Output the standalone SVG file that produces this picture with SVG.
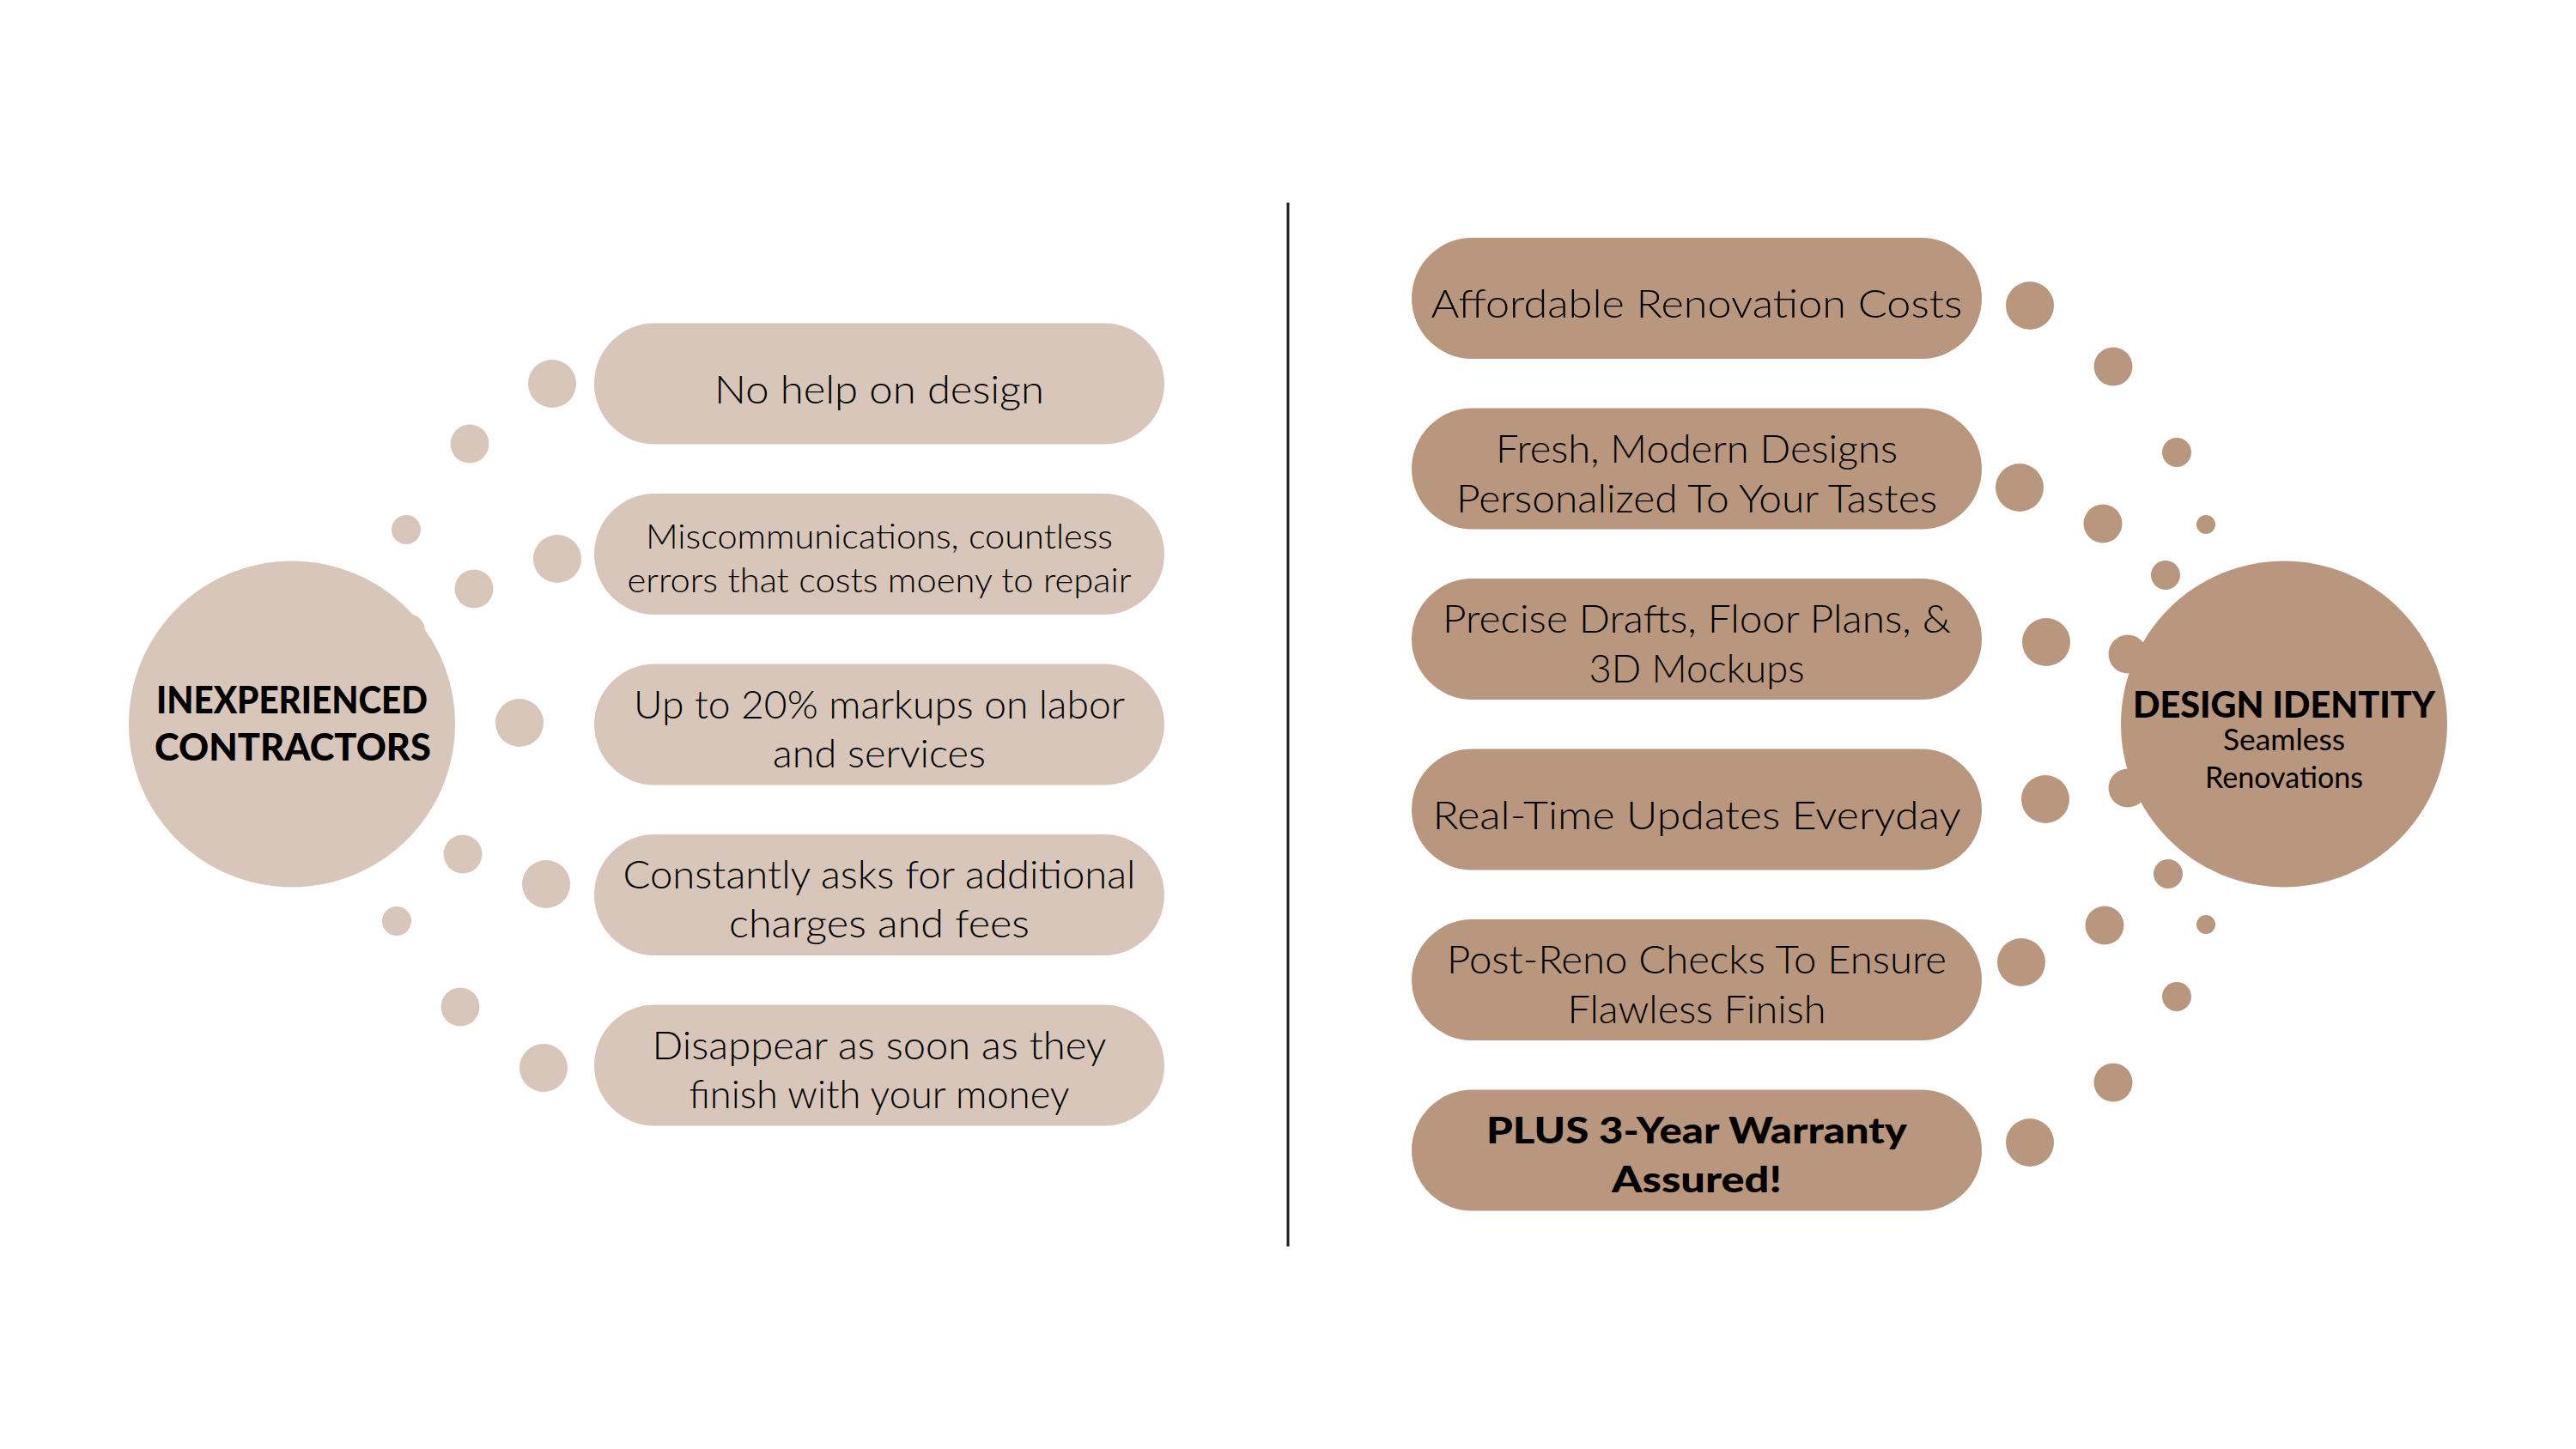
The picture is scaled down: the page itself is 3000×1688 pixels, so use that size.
<svg xmlns="http://www.w3.org/2000/svg" width="3000" height="1688" viewBox="0 0 3000 1688">
<style>
.bg{fill:#ffffff}
.l{fill:#D7C6B9}
.r{fill:#B8977E}
.t{font-family:Lato,"Noto Sans","Liberation Sans",sans-serif;font-weight:300;font-size:46px;fill:#000;text-anchor:middle}
.ts{font-size:40px}
.b{font-family:Lato,"Liberation Sans",sans-serif;font-weight:900;fill:#000;text-anchor:middle}
.div{stroke:#1c1c1c;stroke-width:3}
</style>
<rect class="bg" x="0" y="0" width="3000" height="1688"/>

<g id="connectors">
  <line class="div" x1="1500" y1="236" x2="1500" y2="1452"/>
</g>

<g id="dots-left">
  <circle class="l" cx="643" cy="447" r="28"/>
  <circle class="l" cx="547" cy="517" r="22.5"/>
  <circle class="l" cx="473" cy="617" r="17"/>
  <circle class="l" cx="552" cy="686" r="22.5"/>
  <circle class="l" cx="649" cy="651" r="28"/>
  <circle class="l" cx="475" cy="735" r="20"/>
  <circle class="l" cx="605" cy="842" r="28"/>
  <circle class="l" cx="539" cy="995" r="22.5"/>
  <circle class="l" cx="636" cy="1030" r="28"/>
  <circle class="l" cx="462" cy="1073" r="17"/>
  <circle class="l" cx="536" cy="1173" r="22.5"/>
  <circle class="l" cx="633" cy="1244" r="28"/>
</g>

<g id="dots-right">
  <circle class="r" cx="2364" cy="356" r="28"/>
  <circle class="r" cx="2461" cy="427" r="22.5"/>
  <circle class="r" cx="2535" cy="527" r="17"/>
  <circle class="r" cx="2569" cy="611" r="11"/>
  <circle class="r" cx="2449" cy="610" r="22.5"/>
  <circle class="r" cx="2352" cy="568" r="28"/>
  <circle class="r" cx="2522" cy="670" r="17"/>
  <circle class="r" cx="2383" cy="748" r="28"/>
  <circle class="r" cx="2478" cy="762" r="22.5"/>
  <circle class="r" cx="2478" cy="918" r="22.5"/>
  <circle class="r" cx="2382" cy="931" r="28"/>
  <circle class="r" cx="2525" cy="1018" r="17"/>
  <circle class="r" cx="2451" cy="1078" r="22.5"/>
  <circle class="r" cx="2569" cy="1077" r="11"/>
  <circle class="r" cx="2354" cy="1121" r="28"/>
  <circle class="r" cx="2535" cy="1161" r="17"/>
  <circle class="r" cx="2461" cy="1261" r="22.5"/>
  <circle class="r" cx="2364" cy="1331" r="28"/>
</g>

<g id="inexperienced-contractors">
  <circle class="l" cx="340" cy="843.5" r="190"/>
  <text class="b" x="340" y="831" font-size="43" textLength="316" lengthAdjust="spacingAndGlyphs">INEXPERIENCED</text>
  <text class="b" x="341" y="886" font-size="43" textLength="322" lengthAdjust="spacingAndGlyphs">CONTRACTORS</text>
</g>

<g id="design-identity">
  <circle class="r" cx="2660" cy="843.5" r="190"/>
  <text class="b" x="2660" y="836" font-size="42" textLength="352" lengthAdjust="spacingAndGlyphs">DESIGN IDENTITY</text>
  <text class="t" x="2660" y="874" style="font-size:34px;font-weight:400" textLength="142" lengthAdjust="spacingAndGlyphs">Seamless</text>
  <text class="t" x="2660" y="918" style="font-size:34px;font-weight:400" textLength="184" lengthAdjust="spacingAndGlyphs">Renovations</text>
</g>

<g id="left-1">
  <rect class="l" x="692" y="376.5" width="664" height="141" rx="70.5"/>
  <text class="t" x="1024" y="470" textLength="384" lengthAdjust="spacingAndGlyphs">No help on design</text>
</g>
<g id="left-2">
  <rect class="l" x="692" y="575" width="664" height="141" rx="70.5"/>
  <text class="t ts" x="1024" y="639" textLength="544" lengthAdjust="spacingAndGlyphs">Miscommunications, countless</text>
  <text class="t ts" x="1024" y="690" textLength="587" lengthAdjust="spacingAndGlyphs">errors that costs moeny to repair</text>
</g>
<g id="left-3">
  <rect class="l" x="692" y="773.5" width="664" height="141" rx="70.5"/>
  <text class="t" x="1024" y="837" textLength="572" lengthAdjust="spacingAndGlyphs">Up to 20% markups on labor</text>
  <text class="t" x="1024" y="894" textLength="248" lengthAdjust="spacingAndGlyphs">and services</text>
</g>
<g id="left-4">
  <rect class="l" x="692" y="972" width="664" height="141" rx="70.5"/>
  <text class="t" x="1024" y="1035" textLength="597" lengthAdjust="spacingAndGlyphs">Constantly asks for additional</text>
  <text class="t" x="1024" y="1092" textLength="350" lengthAdjust="spacingAndGlyphs">charges and fees</text>
</g>
<g id="left-5">
  <rect class="l" x="692" y="1170.5" width="664" height="141" rx="70.5"/>
  <text class="t" x="1024" y="1234" textLength="529" lengthAdjust="spacingAndGlyphs">Disappear as soon as they</text>
  <text class="t" x="1024" y="1291" textLength="443" lengthAdjust="spacingAndGlyphs">finish with your money</text>
</g>

<g id="right-1">
  <rect class="r" x="1644" y="277" width="664" height="141" rx="70.5"/>
  <text class="t" x="1976" y="370" textLength="619" lengthAdjust="spacingAndGlyphs">Affordable Renovation Costs</text>
</g>
<g id="right-2">
  <rect class="r" x="1644" y="475.5" width="664" height="141" rx="70.5"/>
  <text class="t" x="1976" y="539" textLength="468" lengthAdjust="spacingAndGlyphs">Fresh, Modern Designs</text>
  <text class="t" x="1976" y="597" textLength="560" lengthAdjust="spacingAndGlyphs">Personalized To Your Tastes</text>
</g>
<g id="right-3">
  <rect class="r" x="1644" y="674" width="664" height="141" rx="70.5"/>
  <text class="t" x="1976" y="737" textLength="592" lengthAdjust="spacingAndGlyphs">Precise Drafts, Floor Plans, &amp;</text>
  <text class="t" x="1976" y="795" textLength="251" lengthAdjust="spacingAndGlyphs">3D Mockups</text>
</g>
<g id="right-4">
  <rect class="r" x="1644" y="872.5" width="664" height="141" rx="70.5"/>
  <text class="t" x="1976" y="966" textLength="615" lengthAdjust="spacingAndGlyphs">Real-Time Updates Everyday</text>
</g>
<g id="right-5">
  <rect class="r" x="1644" y="1071" width="664" height="141" rx="70.5"/>
  <text class="t" x="1976" y="1134" textLength="582" lengthAdjust="spacingAndGlyphs">Post-Reno Checks To Ensure</text>
  <text class="t" x="1976" y="1192" textLength="301" lengthAdjust="spacingAndGlyphs">Flawless Finish</text>
</g>
<g id="right-6">
  <rect class="r" x="1644" y="1269.5" width="664" height="141" rx="70.5"/>
  <text class="b" x="1976" y="1332" font-size="42" textLength="490" lengthAdjust="spacingAndGlyphs">PLUS 3-Year Warranty</text>
  <text class="b" x="1976" y="1389" font-size="42" textLength="198" lengthAdjust="spacingAndGlyphs">Assured!</text>
</g>
</svg>
